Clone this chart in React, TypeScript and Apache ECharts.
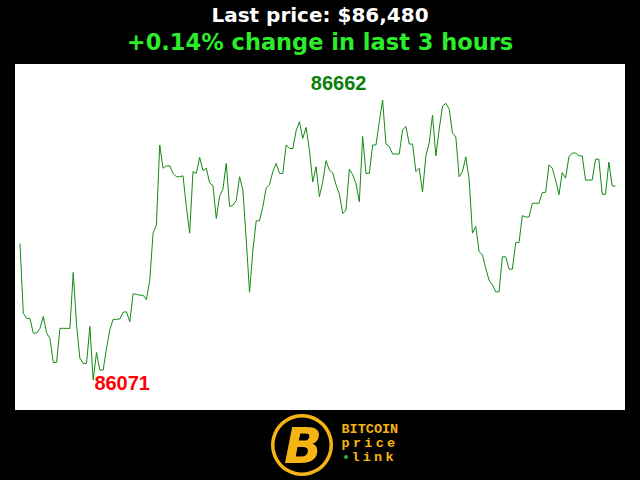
import React, { useEffect, useRef } from "react";
import * as echarts from "echarts";

const prices: number[] = [
  86359, 86212, 86201, 86201, 86170, 86170, 86180, 86205, 86170, 86159,
  86108, 86108, 86180, 86180, 86180, 86180, 86298, 86187, 86117, 86106,
  86106, 86184, 86071, 86129, 86092, 86092, 86138, 86177, 86199, 86199,
  86200, 86214, 86215, 86194, 86253, 86252, 86250, 86250, 86241, 86281,
  86381, 86398, 86567, 86518, 86523, 86523, 86507, 86500, 86500, 86502,
  86437, 86381, 86511, 86507, 86541, 86513, 86518, 86487, 86481, 86412,
  86459, 86474, 86528, 86437, 86440, 86450, 86500, 86472, 86367, 86256,
  86345, 86407, 86407, 86437, 86476, 86483, 86511, 86528, 86507, 86507,
  86567, 86560, 86559, 86597, 86616, 86581, 86604, 86556, 86489, 86521,
  86458, 86489, 86534, 86514, 86508, 86483, 86464, 86422, 86430, 86516,
  86504, 86485, 86447, 86585, 86507, 86507, 86567, 86567, 86616, 86662,
  86569, 86564, 86548, 86548, 86548, 86599, 86606, 86569, 86569, 86511,
  86518, 86468, 86544, 86571, 86630, 86544, 86600, 86649, 86655, 86643,
  86592, 86584, 86500, 86511, 86542, 86495, 86381, 86395, 86342, 86335,
  86307, 86281, 86272, 86257, 86257, 86331, 86331, 86305, 86305, 86361,
  86361, 86418, 86415, 86415, 86444, 86444, 86444, 86467, 86467, 86525,
  86518, 86493, 86462, 86509, 86497, 86542, 86550, 86550, 86544, 86544,
  86493, 86493, 86493, 86537, 86537, 86463, 86463, 86531, 86481, 86480,
];

const minutes: string[] = prices.map((_, i) => String(i));

const titlePrefix = "Last price: $";
const changeSuffix = "% change in last 3 hours";
const logoLines = ["BITCOIN", "price", "link"];

export default function App() {
  const ref = useRef<HTMLDivElement>(null);

  useEffect(() => {
    if (!ref.current) return;
    const chart = echarts.init(ref.current, null, { renderer: "svg" });

    const last = prices[prices.length - 1];
    const first = prices[0];
    const pct = ((last - first) / first) * 100;
    const pctText = (pct >= 0 ? "+" : "") + pct.toFixed(2) + changeSuffix;
    const lastText = titlePrefix + last.toLocaleString("en-US");
    const ymin = Math.min(...prices);
    const ymax = Math.max(...prices);

    const logoColor = "#f6b414";
    const logoTexts: any[] = [];
    // BITCOIN line (normal monospace spacing)
    const lineSpecs = [
      { text: logoLines[0], x0: 341.5, step: 8.1, y: 429 },
      { text: logoLines[1], x0: 341.5, step: 11.4, y: 443 },
      { text: logoLines[2], x0: 351.5, step: 11.3, y: 457 },
    ];
    lineSpecs.forEach((ls) => {
      ls.text.split("").forEach((ch, k) => {
        logoTexts.push({
          type: "text",
          x: ls.x0 + k * ls.step,
          y: ls.y,
          style: {
            text: ch,
            fill: logoColor,
            font: "bold 13.5px 'Liberation Mono', monospace",
            textVerticalAlign: "middle",
            textAlign: "left",
          },
        });
      });
    });

    chart.setOption({
      animation: false,
      backgroundColor: "#000000",
      graphic: [
        {
          type: "rect",
          z: -10,
          shape: { x: 15, y: 64, width: 610, height: 346 },
          style: { fill: "#ffffff" },
        },
        {
          type: "text",
          x: 320,
          y: 15,
          style: {
            text: lastText,
            fill: "#ffffff",
            font: "bold 20px 'DejaVu Sans', sans-serif",
            textAlign: "center",
            textVerticalAlign: "middle",
          },
        },
        {
          type: "text",
          x: 320,
          y: 42,
          style: {
            text: pctText,
            fill: "#2cec2c",
            font: "bold 22.5px 'DejaVu Sans', sans-serif",
            textAlign: "center",
            textVerticalAlign: "middle",
          },
        },
        {
          type: "ring",
          shape: { cx: 302, cy: 445, r: 31, r0: 27.5 },
          style: { fill: logoColor },
        },
        {
          type: "text",
          x: 303,
          y: 446,
          style: {
            text: "B",
            fill: logoColor,
            font: "italic bold 50px 'DejaVu Sans', sans-serif",
            textAlign: "center",
            textVerticalAlign: "middle",
          },
        },
        {
          type: "circle",
          shape: { cx: 346, cy: 457, r: 2 },
          style: { fill: "#2fae2f" },
        },
        ...logoTexts,
      ],
      grid: { left: 20, right: 24.5, top: 100, bottom: 100 },
      xAxis: {
        type: "category",
        data: minutes,
        boundaryGap: false,
        show: false,
      },
      yAxis: {
        type: "value",
        min: ymin,
        max: ymax,
        show: false,
      },
      series: [
        {
          type: "line",
          data: prices,
          symbol: "none",
          lineStyle: { color: "#138a13", width: 1 },
          markPoint: {
            symbol: "circle",
            symbolSize: 0,
            data: [
              {
                type: "max",
                label: {
                  show: true,
                  position: "inside",
                  offset: [-44, -17],
                  formatter: "{c}",
                  color: "#0a7f0a",
                  fontWeight: "bold",
                  fontSize: 20,
                  fontFamily: "'Liberation Sans', Arial, sans-serif",
                },
              },
              {
                type: "min",
                label: {
                  show: true,
                  position: "inside",
                  offset: [29, 3],
                  formatter: "{c}",
                  color: "#ff0000",
                  fontWeight: "bold",
                  fontSize: 20,
                  fontFamily: "'Liberation Sans', Arial, sans-serif",
                },
              },
            ],
          },
        },
      ],
    });

    return () => chart.dispose();
  }, []);

  return (
    <div
      ref={ref}
      style={{ position: "fixed", left: 0, top: 0, width: 640, height: 480 }}
    />
  );
}
